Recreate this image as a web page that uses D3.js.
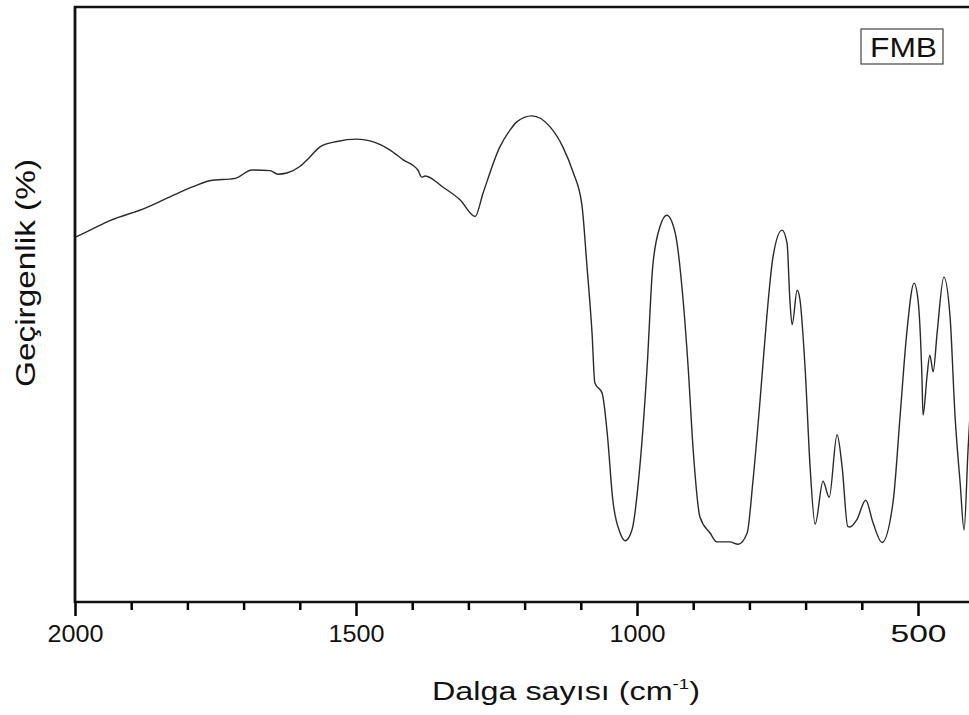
<!DOCTYPE html>
<html>
<head>
<meta charset="utf-8">
<script src="https://cdn.jsdelivr.net/npm/d3@7"></script>
<style>
  html, body { margin: 0; padding: 0; background: #fff; }
  svg { display: block; }
  text { font-family: "Liberation Sans", Arial, sans-serif; fill: #111; }
</style>
</head>
<body>
<svg id="chart" width="969" height="715"></svg>
<script>
// Wavenumber (cm^-1) and transmittance (arbitrary %)
const wavenumber = [2000,1973,1938,1875,1831,1790,1760,1715,1685,1653,1639,1623,1600,1582,1564,1534,1498,1475,1440,1416,1390,1383,1377,1345,1315,1288,1274,1244,1226,1214,1187,1155,1132,1114,1098,1089,1080,1075,1062,1053,1043,1030,1021,1009,995,982,972,959,947,932,918,909,900,888,870,858,835,820,804,794,781,769,758,742,733,728,724,715,710,701,692,683,669,658,644,635,625,621,609,593,580,564,544,532,520,507,500,493,491,484,479,473,466,454,443,434,425,418,411,404,400];
const transmittance = [61.3,62.5,64.1,66.2,68.1,69.8,70.8,71.2,72.6,72.5,71.9,72.1,73.2,74.8,76.5,77.4,77.8,77.5,76.0,74.3,72.6,71.4,71.6,69.7,67.6,64.8,68.7,76.5,79.3,80.7,81.7,79.9,76.5,72.3,66.7,56.4,45.2,36.8,35.1,28.4,17.1,11.6,10.3,12.1,22.7,39.5,56.4,63.1,65.0,62.0,50.8,39.5,25.5,14.3,11.6,10.1,10.1,9.7,11.6,20.0,33.9,48.0,58.0,62.5,60.3,50.8,46.6,52.4,50.8,39.5,22.7,13.1,20.3,17.6,28.1,22.7,12.7,12.6,13.8,17.1,13.3,10.0,17.1,31.1,45.2,53.6,50.8,37.9,31.4,37.9,41.5,38.7,45.2,54.6,48.0,31.1,20.0,12.1,25.5,37.3,44.0];
const majorTicks = [2000, 1500, 1000, 500];
const minorTicks = [1900, 1800, 1700, 1600, 1400, 1300, 1200, 1100, 900, 800, 700, 600, 400];
const xTitle = "Dalga sayısı (cm";
const xTitleSup = "-1";
const yTitle = "Geçirgenlik (%)";
const legendLabel = "FMB";

const data = wavenumber.map((w, i) => ({ w, t: transmittance[i] }));

const svg = d3.select("#chart");
const mLeft = 75, mRight = 974.2, mTop = 7, mBottom = 602;

const x = d3.scaleLinear().domain([2000, 400]).range([mLeft, mRight]);
const y = d3.scaleLinear().domain([0, 100]).range([mBottom, mTop]);

// Curve
const line = d3.line().x(d => x(d.w)).y(d => y(d.t)).curve(d3.curveMonotoneX);
svg.append("path").datum(data)
  .attr("d", line)
  .attr("fill", "none")
  .attr("stroke", "#2a2a2a")
  .attr("stroke-width", 1.4);

// Minor ticks
const minorAxis = d3.axisBottom(x).tickValues(minorTicks).tickSize(8).tickFormat("");
const gMinor = svg.append("g").attr("transform", `translate(0,${mBottom})`).call(minorAxis);
gMinor.select(".domain").remove();
gMinor.selectAll(".tick line").style("stroke", "#000").style("stroke-width", "2.5px");

// Major ticks
const majorAxis = d3.axisBottom(x).tickValues(majorTicks).tickSize(14).tickFormat(d3.format("d"));
const gMajor = svg.append("g").attr("transform", `translate(0,${mBottom})`).call(majorAxis);
gMajor.select(".domain").remove();
gMajor.selectAll(".tick line").style("stroke", "#000").style("stroke-width", "2.5px");
gMajor.selectAll(".tick text")
  .attr("y", 40).attr("dy", 0)
  .attr("font-size", 24)
  .attr("font-family", "Liberation Sans, Arial, sans-serif")
  .attr("fill", "#111")
  .attr("text-anchor", "middle")
  .attr("textLength", 56)
  .attr("lengthAdjust", "spacingAndGlyphs");

// Frame lines: bottom, left, top
svg.append("line").attr("x1", mLeft - 1).attr("x2", 969).attr("y1", mBottom).attr("y2", mBottom)
  .attr("stroke", "#111").attr("stroke-width", 2.5);
svg.append("line").attr("x1", mLeft).attr("x2", mLeft).attr("y1", mTop - 1).attr("y2", mBottom + 1)
  .attr("stroke", "#111").attr("stroke-width", 2.8);
svg.append("line").attr("x1", mLeft - 1).attr("x2", 969).attr("y1", mTop).attr("y2", mTop)
  .attr("stroke", "#111").attr("stroke-width", 2.5);

// X title
const xt = svg.append("text")
  .attr("x", 432).attr("y", 700)
  .attr("font-size", 26)
  .attr("textLength", 268)
  .attr("lengthAdjust", "spacingAndGlyphs");
xt.append("tspan").text(xTitle);
xt.append("tspan").attr("dy", -11).attr("font-size", 15).text(xTitleSup);
xt.append("tspan").attr("dy", 11).text(")");

// Y title
svg.append("text")
  .attr("transform", "translate(35,273) rotate(-90)")
  .attr("text-anchor", "middle")
  .attr("font-size", 27)
  .attr("textLength", 228)
  .attr("lengthAdjust", "spacingAndGlyphs")
  .text(yTitle);

// Legend box
svg.append("rect").attr("x", 861).attr("y", 29).attr("width", 82).attr("height", 35)
  .attr("fill", "none").attr("stroke", "#444").attr("stroke-width", 1.2);
svg.append("text").attr("x", 870).attr("y", 57)
  .attr("font-size", 28)
  .attr("textLength", 67)
  .attr("lengthAdjust", "spacingAndGlyphs")
  .text(legendLabel);
</script>
</body>
</html>
